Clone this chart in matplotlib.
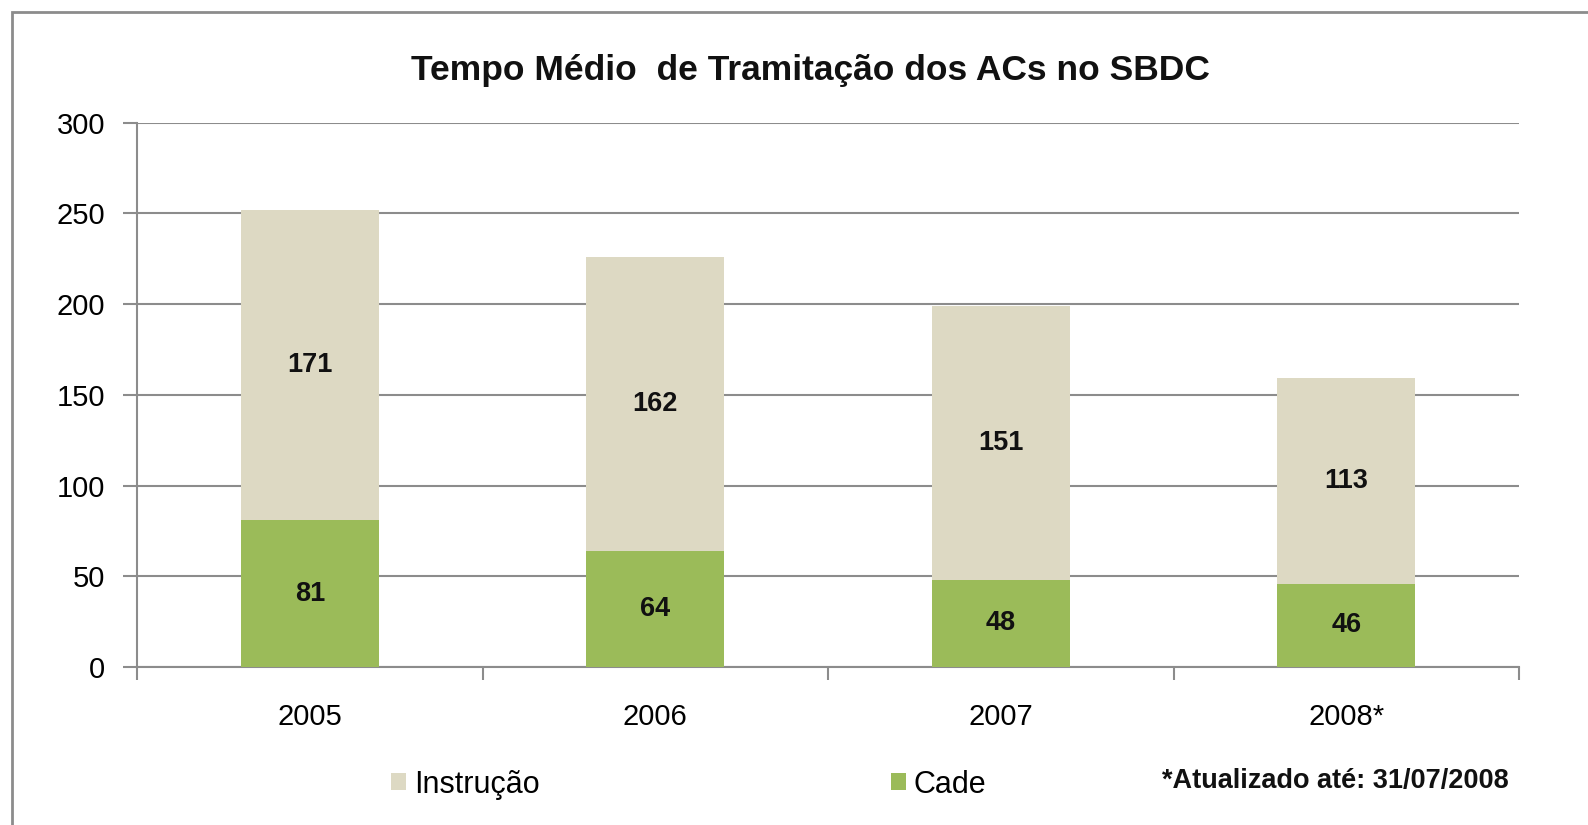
import matplotlib
matplotlib.use("Agg")
import matplotlib.pyplot as plt
from matplotlib.patches import Rectangle

categories = ["2005", "2006", "2007", "2008*"]
cade = [81, 64, 48, 46]
instrucao = [171, 162, 151, 113]

plt.rcParams['font.family'] = ['Liberation Sans', 'DejaVu Sans']

fig = plt.figure(figsize=(15.88, 8.25), dpi=100)
fig.patches.append(Rectangle((12/1588, -0.1), 1.2, (825-12)/825 + 0.1 - 0.0,
                             transform=fig.transFigure, fill=False,
                             edgecolor='#8c8c8c', linewidth=2.0))
ax = fig.add_axes([0.0863, 0.1915, 0.9566 - 0.0863, 0.8515 - 0.1915])

x = list(range(len(categories)))
green = '#9bbb59'
beige = '#ddd9c3'
b1 = ax.bar(x, cade, width=0.4, color=green, label='Cade', zorder=3)
b2 = ax.bar(x, instrucao, width=0.4, bottom=cade, color=beige, label='Instrução', zorder=3)

for i in x:
    ax.text(i, cade[i] / 2, str(cade[i]), ha='center', va='center',
            fontsize=19.5, fontweight='bold', color='#111111', zorder=4)
    ax.text(i, cade[i] + instrucao[i] / 2, str(instrucao[i]), ha='center', va='center',
            fontsize=19.5, fontweight='bold', color='#111111', zorder=4)

ax.set_xlim(-0.5, 3.5)
ax.set_ylim(0, 300)
ax.set_yticks(range(0, 301, 50))
ax.yaxis.grid(True, color='#8c8c8c', linewidth=1.5, zorder=0)
ax.set_axisbelow(True)
ax.tick_params(axis='y', labelsize=21, length=10, width=1.5, color='#8c8c8c', pad=13)
ax.set_xticks(x)
ax.set_xticklabels(categories)
ax.tick_params(axis='x', which='major', length=0, labelsize=21, pad=26)
ax.set_xticks([-0.5, 0.5, 1.5, 2.5, 3.5], minor=True)
ax.tick_params(axis='x', which='minor', length=9, width=1.5, color='#8c8c8c')
for s in ['top', 'right']:
    ax.spines[s].set_visible(False)
for s in ['left', 'bottom']:
    ax.spines[s].set_color('#8c8c8c')
    ax.spines[s].set_linewidth(1.5)

fig.text(0.5103, 0.914, 'Tempo Médio  de Tramitação dos ACs no SBDC', ha='center', va='center',
         fontsize=25.5, fontweight='bold', color='#111111')

leg = fig.legend(handles=[b2, b1], labels=['Instrução', 'Cade'], ncol=2, frameon=False,
                 loc='center left', bbox_to_anchor=(0.229, 0.049), fontsize=22,
                 handlelength=0.5, handleheight=0.5, handletextpad=0.25, columnspacing=11.5)

fig.text(0.7315, 0.053, '*Atualizado até: 31/07/2008', ha='left', va='center',
         fontsize=19.5, fontweight='bold', color='#111111',
         family=['Liberation Sans Narrow', 'Liberation Sans', 'DejaVu Sans'])

fig.savefig('out.png', dpi=100)
